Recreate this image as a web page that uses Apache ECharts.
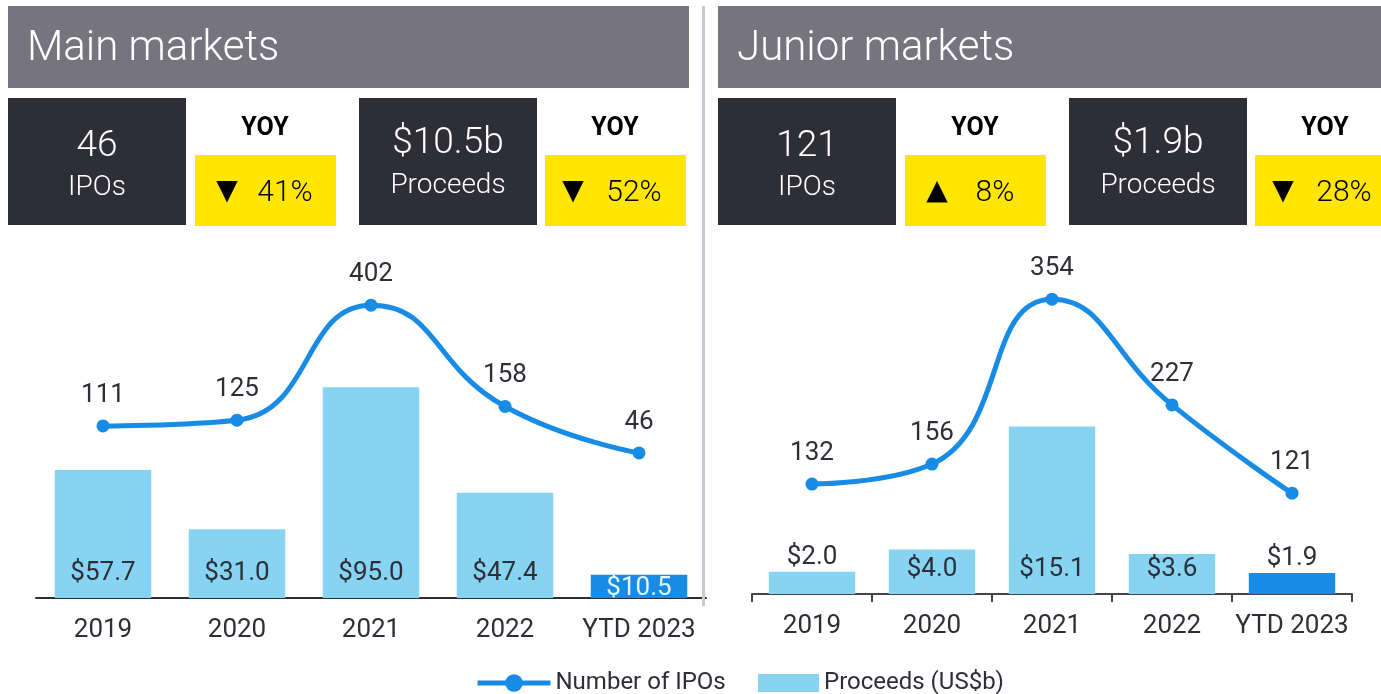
<!DOCTYPE html>
<html>
<head>
<meta charset="utf-8">
<title>IPO markets</title>
<script src="https://cdn.jsdelivr.net/npm/echarts@6/dist/echarts.min.js"></script>
<style>
  html, body { margin: 0; padding: 0; background: #ffffff; }
  #chart { width: 1381px; height: 694px; }
</style>
</head>
<body>
<div id="chart"></div>
<script>
const years = ["2019", "2020", "2021", "2022", "YTD 2023"];
const mainIpos = [111, 125, 402, 158, 46];
const mainProceeds = [57.7, 31.0, 95.0, 47.4, 10.5];
const juniorIpos = [132, 156, 354, 227, 121];
const juniorProceeds = [2.0, 4.0, 15.1, 3.6, 1.9];

const panelTitles = ["Main markets", "Junior markets"];
const headlineIpos = ["46", "121"];
const headlineProceeds = ["$10.5b", "$1.9b"];
const yoyIposArrow = ["▼", "▲"];
const yoyIposChange = ["41%", "8%"];
const yoyProceedsArrow = ["▼", "▼"];
const yoyProceedsChange = ["52%", "28%"];
const seriesNames = ["Number of IPOs", "Proceeds (US$b)"];

const FONT = "Roboto, 'DejaVu Sans', sans-serif";
const COLORS = {
  title: "#75747f",
  dark: "#2e2e38",
  yellow: "#ffe600",
  line: "#188ce5",
  bar: "#87d3f2",
  text: "#2e2e38",
  rule: "#c9c9d1",
};

function rect(x, y, width, height, color) {
  return { type: "rect", silent: true, z: 10, shape: { x, y, width, height }, style: { fill: color } };
}

function label(x, y, str, size, extra) {
  const style = Object.assign({
    text: str,
    fill: "#ffffff",
    fontSize: size,
    fontFamily: FONT,
    fontWeight: 300,
    align: "center",
    verticalAlign: "middle",
    textAlign: "center",
    textVerticalAlign: "middle",
  }, extra || {});
  return { type: "text", silent: true, z: 11, x, y, style };
}

function buildPanel(i, offset, titleWidth) {
  const els = [];
  const arrowFont = { fill: "#000", fontFamily: "'DejaVu Sans', sans-serif", fontWeight: "normal" };
  els.push(rect(8 + offset, 6, titleWidth, 82, COLORS.title));
  els.push(label(27 + offset, 49, panelTitles[i], 42, { align: "left", textAlign: "left" }));

  // IPO count + yoy
  els.push(rect(8 + offset, 98, 178, 127, COLORS.dark));
  els.push(label(97 + offset, 147, headlineIpos[i], 37));
  els.push(label(97 + offset, 188, "IPOs", 28));
  els.push(label(265 + offset, 129, "YOY", 25, { fill: "#000", fontWeight: "bold" }));
  els.push(rect(195 + offset, 155, 141, 71, COLORS.yellow));
  els.push(label(227 + offset, 192, yoyIposArrow[i], 28, arrowFont));
  els.push(label(285 + offset, 193, yoyIposChange[i], 30, { fill: "#000" }));

  // proceeds + yoy
  els.push(rect(359 + offset, 98, 178, 127, COLORS.dark));
  els.push(label(448 + offset, 144, headlineProceeds[i], 37));
  els.push(label(448 + offset, 186, "Proceeds", 28));
  els.push(label(615 + offset, 129, "YOY", 25, { fill: "#000", fontWeight: "bold" }));
  els.push(rect(545 + offset, 155, 141, 71, COLORS.yellow));
  els.push(label(573 + offset, 192, yoyProceedsArrow[i], 28, arrowFont));
  els.push(label(634 + offset, 193, yoyProceedsChange[i], 30, { fill: "#000" }));
  return els;
}

function money(v) {
  return "$" + v.toFixed(1);
}

function barData(values, smallLimit) {
  const last = values.length - 1;
  return values.map((v, idx) => {
    const item = { value: v };
    if (idx === last) {
      item.itemStyle = { color: COLORS.line };
    }
    if (v < smallLimit) {
      item.label = { position: "top", distance: 1, color: COLORS.text };
    } else if (idx === last) {
      item.label = { distance: -3, color: "#e6f4fd" };
    }
    return item;
  });
}

function barSeries(values, axisIndex, smallLimit) {
  return {
    name: seriesNames[1],
    type: "bar",
    xAxisIndex: axisIndex,
    yAxisIndex: axisIndex * 2,
    barCategoryGap: "28%",
    itemStyle: { color: COLORS.bar },
    label: {
      show: true,
      position: "insideBottom",
      distance: 12,
      fontSize: 26,
      fontFamily: FONT,
      color: COLORS.text,
      formatter: (p) => money(p.value),
    },
    data: barData(values, smallLimit),
  };
}

function lineSeries(values, axisIndex) {
  return {
    name: seriesNames[0],
    type: "line",
    xAxisIndex: axisIndex,
    yAxisIndex: axisIndex * 2 + 1,
    smooth: 0.5,
    symbol: "circle",
    symbolSize: 13,
    z: 5,
    itemStyle: { color: COLORS.line },
    lineStyle: { color: COLORS.line, width: 5 },
    label: {
      show: true,
      position: "top",
      distance: 11,
      fontSize: 26,
      fontFamily: FONT,
      color: COLORS.text,
    },
    data: values,
  };
}

function xAxis(gridIndex, withTicks) {
  return {
    type: "category",
    gridIndex,
    data: years,
    axisLine: { lineStyle: { color: withTicks ? "#44444f" : COLORS.dark, width: 2 } },
    axisTick: { show: withTicks, length: 8, lineStyle: { color: "#44444f", width: 2 } },
    axisLabel: { interval: 0, margin: 19, fontSize: 26, fontFamily: FONT, color: COLORS.text },
  };
}

function hiddenY(gridIndex, min, max) {
  return { type: "value", gridIndex, min, max, show: false, splitLine: { show: false } };
}

const chart = echarts.init(document.getElementById("chart"), null, { renderer: "canvas" });

const graphics = []
  .concat(buildPanel(0, 0, 681))
  .concat(buildPanel(1, 710, 663))
  .concat([rect(702, 6, 3, 600, COLORS.rule)]);

const legendText = { fontSize: 24, fontFamily: FONT, color: COLORS.text };

chart.setOption({
  animation: false,
  graphic: graphics,
  legend: [
    {
      data: [seriesNames[0]], left: 470, top: 666, itemWidth: 73, itemHeight: 22, itemGap: 8,
      lineStyle: { width: 5 }, textStyle: legendText,
    },
    {
      data: [{ name: seriesNames[1], icon: "rect" }], left: 753, top: 666, itemWidth: 61, itemHeight: 18, itemGap: 8,
      textStyle: legendText,
    },
  ],
  grid: [
    { left: 36, top: 250, width: 670, height: 348 },
    { left: 752, top: 250, width: 600, height: 344 },
  ],
  xAxis: [xAxis(0, false), xAxis(1, true)],
  yAxis: [
    hiddenY(0, 0, 156.8),
    hiddenY(0, -303.6, 535),
    hiddenY(1, 0, 31),
    hiddenY(1, 0, 413),
  ],
  series: [
    barSeries(mainProceeds, 0, 0),
    lineSeries(mainIpos, 0),
    barSeries(juniorProceeds, 1, 2.5),
    lineSeries(juniorIpos, 1),
  ],
});
</script>
</body>
</html>
